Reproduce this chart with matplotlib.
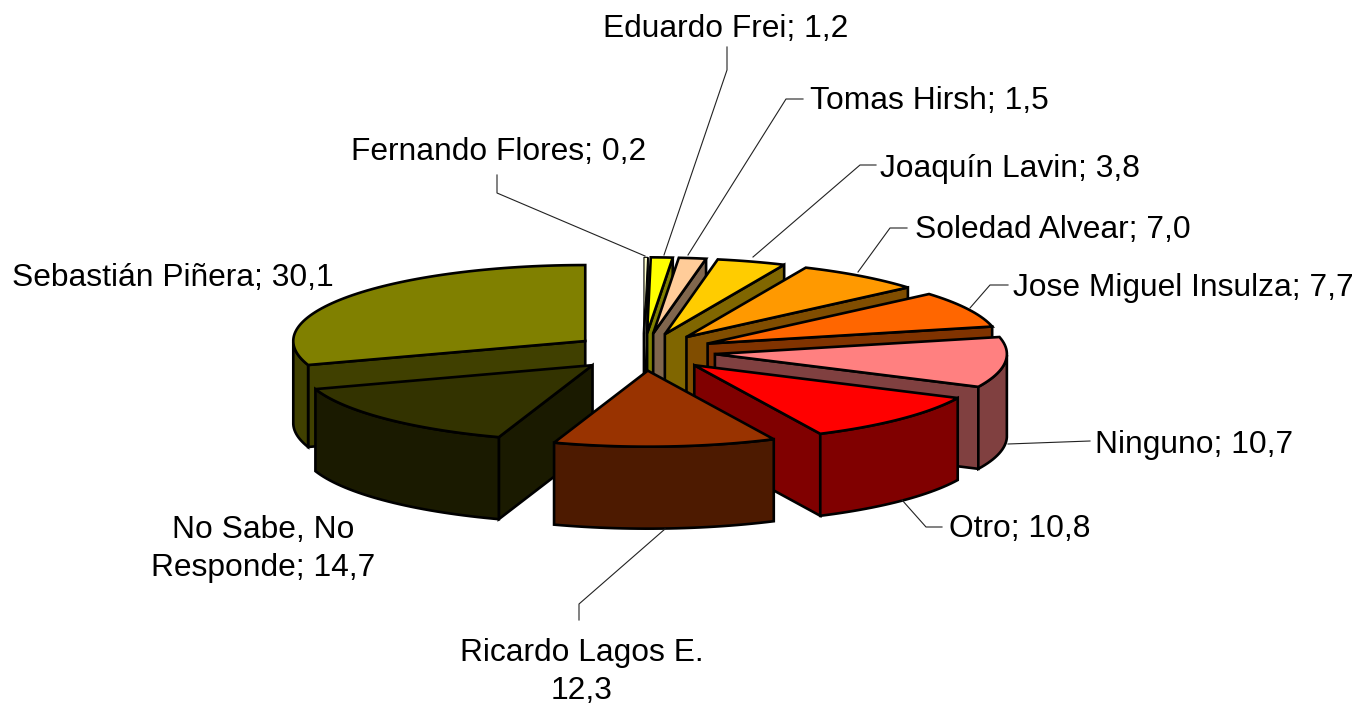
import numpy as np
import matplotlib
matplotlib.use('Agg')
import matplotlib.pyplot as plt
from matplotlib.colors import to_rgb

plt.rcParams['font.family'] = ['Liberation Sans', 'DejaVu Sans']

names = ['Fernando Flores', 'Eduardo Frei', 'Tomas Hirsh', 'Joaquín Lavin', 'Soledad Alvear',
         'Jose Miguel Insulza', 'Ninguno', 'Otro', 'Ricardo Lagos E.', 'No Sabe, No\nResponde',
         'Sebastián Piñera']
values = [0.2, 1.2, 1.5, 3.8, 7.0, 7.7, 10.7, 10.8, 12.3, 14.7, 30.1]
colors = ['#FFFFCC', '#FFFF00', '#FFCC99', '#FFCC00', '#FF9900', '#FF6600',
          '#FF8080', '#FF0000', '#993300', '#333300', '#808000']

# Pie geometry, in figure pixels
cx, cy = 643.5, 352.0
rx, ry = 292.0, 76.0
explode = 0.246
depth = 82.0

# label x, y, ha
label_pos = [(351, 152, 'left'), (603, 29, 'left'), (810, 101, 'left'), (880, 169, 'left'),
             (915, 230, 'left'), (1013, 288, 'left'), (1095, 445, 'left'), (949, 529, 'left'),
             (582, 672, 'center'), (263, 549, 'center'), (12, 278, 'left')]

# leader lines
leaders = [[(497, 175), (497, 193), (645, 256)],
           [(727, 47), (727, 70), (664, 255)],
           [(803, 99), (786, 99), (688, 255)],
           [(876, 165), (860, 165), (753, 257)],
           [(907, 228), (890, 228), (858, 272)],
           [(1008, 285), (990, 285), (970, 308)],
           [(1090, 441), (1008, 444)],
           [(942, 527), (926, 527), (902, 500)],
           [(579, 620), (579, 604), (665, 529)]]

fig = plt.figure(figsize=(13.58, 7.08), dpi=100)
ax = fig.add_axes([0, 0, 1, 1])
ax.set_xlim(0, 1358)
ax.set_ylim(708, 0)
ax.set_axis_off()

LW = 1.9


def shade(c):
    return tuple(v * 0.5 for v in to_rgb(c))


def face(pts, c, z, lw=LW):
    ax.fill([p[0] for p in pts], [p[1] for p in pts], facecolor=c, edgecolor='black',
            linewidth=lw, joinstyle='miter', zorder=z)


vals = np.array(values)
edges = np.concatenate([[0], np.cumsum(vals)]) / vals.sum() * 2 * np.pi
slices = []
for i in range(len(vals)):
    a0, a1 = edges[i], edges[i + 1]
    mid = (a0 + a1) / 2
    ax0 = cx + explode * rx * np.sin(mid)
    ay0 = cy - explode * ry * np.cos(mid)
    t = np.linspace(a0, a1, max(int((a1 - a0) * 40), 4))
    arc = np.column_stack([ax0 + rx * np.sin(t), ay0 - ry * np.cos(t)])
    slices.append((ay0, i, (ax0, ay0), arc, t))

# back slices first
for z, (ay0, i, apex, arc, t) in enumerate(sorted(slices, key=lambda s: s[0])):
    dark = shade(colors[i])
    base = z * 10 + 5
    down = np.array([0, depth])
    # radial walls, only the ones facing the viewer
    if arc[0][0] < apex[0]:
        face([apex, arc[0], arc[0] + down, np.array(apex) + down], dark, base)
    if arc[-1][0] > apex[0]:
        face([apex, arc[-1], arc[-1] + down, np.array(apex) + down], dark, base)
    # outer wall, lower half of the ellipse only
    front = np.cos(t) <= 0
    if front.sum() > 1:
        seg = arc[front]
        face(np.vstack([seg, (seg + down)[::-1]]), dark, base + 1)
    # very thin slice would be all outline otherwise
    top_lw = 0.8 if values[i] < 0.5 else LW
    face(np.vstack([[apex], arc]), colors[i], base + 2, lw=top_lw)

for line in leaders:
    ax.plot([p[0] for p in line], [p[1] for p in line], color='#222222', linewidth=0.8, zorder=200)

for name, v, (x, y, ha) in zip(names, values, label_pos):
    sep = '\n' if name.startswith('Ricardo') else '; '
    txt = name + sep + ('%.1f' % v).replace('.', ',')
    ax.text(x, y, txt, ha=ha, va='center', fontsize=22.9, color='black', zorder=300,
            linespacing=1.37, multialignment='center')

fig.savefig('out.png', dpi=100, facecolor='white')
